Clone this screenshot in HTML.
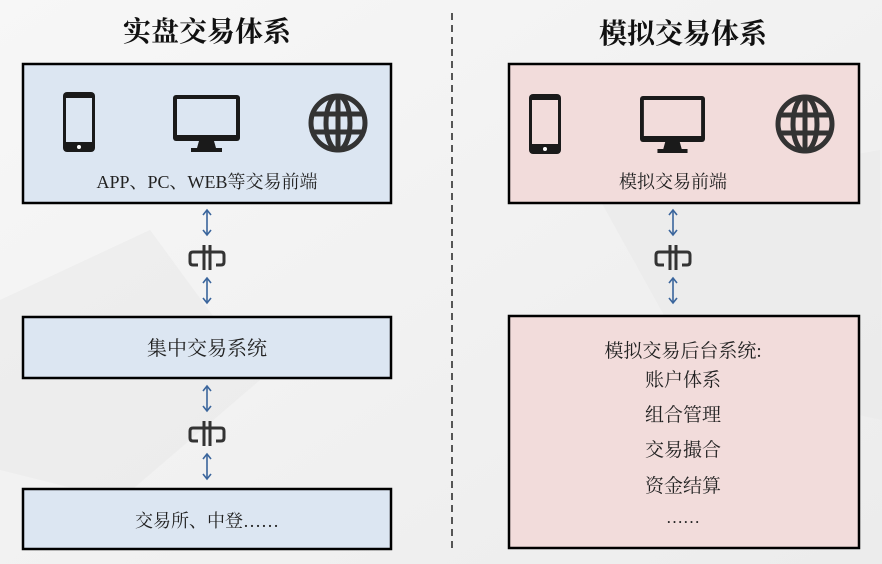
<!DOCTYPE html>
<html><head><meta charset="utf-8"><style>
html,body{margin:0;padding:0;width:882px;height:564px;overflow:hidden;background:#f1f1f1}
svg text{font-family:"Liberation Serif","Noto Serif CJK SC","Noto Sans CJK SC",serif;fill:#222}
</style></head><body>
<svg width="882" height="564" viewBox="0 0 882 564" xmlns="http://www.w3.org/2000/svg">
<defs>
<linearGradient id="bg" x1="0" y1="0" x2="1" y2="1"><stop offset="0" stop-color="#f7f7f7"/><stop offset="1" stop-color="#ececec"/></linearGradient>
<g id="phone"><rect x="0" y="0" width="32" height="60" rx="4" fill="#1a1a1a"/><rect x="3" y="6" width="26" height="44" fill="currentColor"/><circle cx="16" cy="55" r="2" fill="#fff"/></g>
<g id="mon"><rect x="0" y="0" width="67" height="46" rx="3" fill="#1a1a1a"/><rect x="4" y="4" width="59" height="36" fill="currentColor"/><polygon points="26,46 41,46 43,53 49,53 49,57 18,57 18,53 24,53" fill="#1a1a1a"/></g>
<g id="globe" fill="none" stroke="#333" stroke-width="5"><circle cx="0" cy="0" r="27"/><ellipse cx="0" cy="0" rx="12" ry="27"/><line x1="0" y1="-27" x2="0" y2="27"/><line x1="-27" y1="-9" x2="27" y2="-9"/><line x1="-27" y1="9" x2="27" y2="9"/></g>
<g id="arr" stroke="#3a659c" stroke-width="1.6" fill="none"><line x1="0" y1="1" x2="0" y2="26"/><polyline points="-4,6 0,1 4,6"/><polyline points="-4,21 0,26 4,21"/></g>
<g id="link" fill="none" stroke="#333" stroke-width="3"><path d="M-7,-5 H-14 Q-17,-5 -17,-2 V5 Q-17,8 -14,8 H-9"/><path d="M7,-5 H14 Q17,-5 17,-2 V5 Q17,8 14,8 H9"/><line x1="-3" y1="-12" x2="-3" y2="13"/><line x1="3" y1="-12" x2="3" y2="13"/><line x1="-10" y1="-5" x2="10" y2="-5"/></g>
</defs>
<rect width="882" height="564" fill="url(#bg)"/>
<polygon points="0,300 150,230 260,380 120,500 0,470" fill="#e9e9e9" opacity="0.6"/>
<polygon points="600,200 880,150 882,420 700,380" fill="#eaeaea" opacity="0.6"/>
<text x="207" y="41" font-size="28" font-weight="bold" text-anchor="middle" style="fill:#111">实盘交易体系</text>
<text x="683" y="43" font-size="28" font-weight="bold" text-anchor="middle" style="fill:#111">模拟交易体系</text>
<line x1="452" y1="13" x2="452" y2="552" stroke="#222" stroke-width="1.5" stroke-dasharray="7,5"/>
<rect x="23" y="64" width="368" height="139" fill="#dce6f2" stroke="#000" stroke-width="2.5"/>
<rect x="23" y="317" width="368" height="61" fill="#dce6f2" stroke="#000" stroke-width="2.5"/>
<rect x="23" y="489" width="368" height="60" fill="#dce6f2" stroke="#000" stroke-width="2.5"/>
<rect x="509" y="64" width="350" height="139" fill="#f2dcdb" stroke="#000" stroke-width="2.5"/>
<rect x="509" y="316" width="350" height="232" fill="#f2dcdb" stroke="#000" stroke-width="2.5"/>
<use href="#phone" x="63" y="92" style="color:#dce6f2"/>
<use href="#mon" x="173" y="95" style="color:#dce6f2"/>
<use href="#globe" x="338" y="123"/>
<use href="#phone" x="529" y="94" style="color:#f2dcdb"/>
<g transform="translate(640,96) scale(0.97,1)"><use href="#mon" style="color:#f2dcdb"/></g>
<use href="#globe" x="805" y="124"/>
<text x="207" y="188" font-size="18" text-anchor="middle">APP、PC、WEB等交易前端</text>
<text x="673" y="188" font-size="18" text-anchor="middle">模拟交易前端</text>
<text x="207" y="355" font-size="20" text-anchor="middle">集中交易系统</text>
<text x="207" y="527" font-size="18" text-anchor="middle">交易所、中登……</text>
<text x="683" y="357" font-size="19" text-anchor="middle">模拟交易后台系统:</text>
<text x="683" y="386" font-size="19" text-anchor="middle">账户体系</text>
<text x="683" y="421" font-size="19" text-anchor="middle">组合管理</text>
<text x="683" y="456" font-size="19" text-anchor="middle">交易撮合</text>
<text x="683" y="492" font-size="19" text-anchor="middle">资金结算</text>
<text x="683" y="523" font-size="17" text-anchor="middle">……</text>
<use href="#arr" x="207" y="209"/><use href="#link" x="207" y="257"/><use href="#arr" x="207" y="277"/>
<use href="#arr" x="207" y="385"/><use href="#link" x="207" y="433"/><use href="#arr" x="207" y="453"/>
<use href="#arr" x="673" y="209"/><use href="#link" x="673" y="257"/><use href="#arr" x="673" y="277"/>
</svg>
</body></html>
